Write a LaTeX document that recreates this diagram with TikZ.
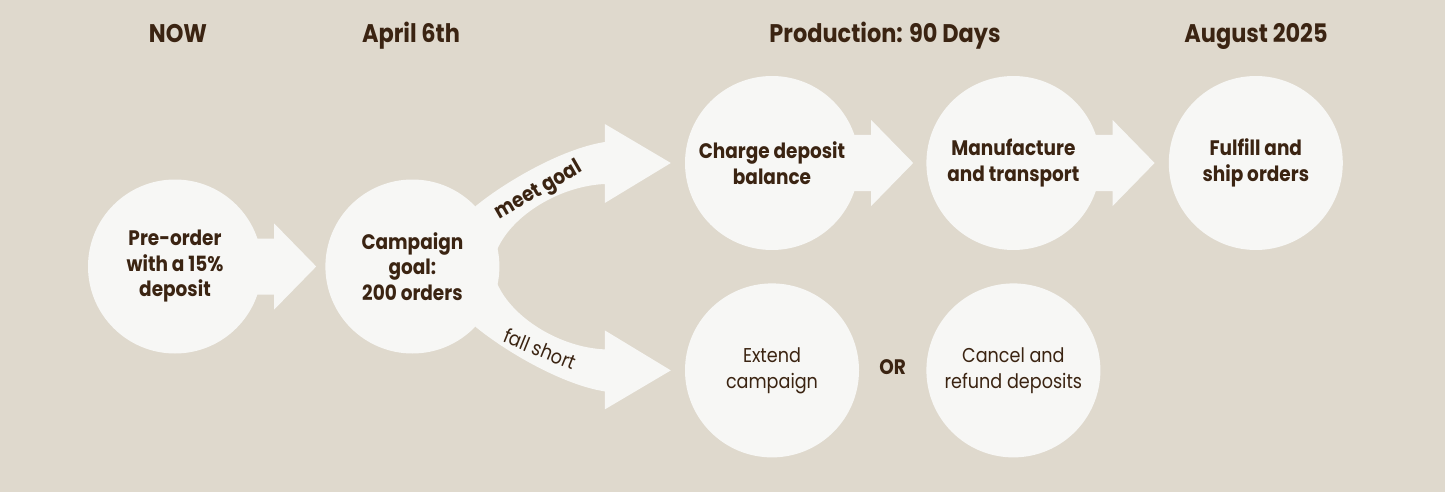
\documentclass[tikz,border=0pt]{standalone}
\usepackage{fontspec}
\setmainfont{Poppins}[FakeStretch=0.88]
\usetikzlibrary{calc, positioning}

\definecolor{sand}{HTML}{DFD9CD}
\definecolor{chalk}{HTML}{F7F7F5}
\definecolor{umber}{HTML}{3B2412}

\newcommand{\headfont}{\fontsize{25.5}{29}\selectfont\bfseries}
\newcommand{\stagefont}{\fontsize{21}{25.5}\selectfont\bfseries}
\newcommand{\altfont}{\fontsize{20}{26}\selectfont}

\pgfdeclarelayer{bg}
\pgfsetlayers{bg,main}

\begin{document}
\begin{tikzpicture}[x=1pt, y=-1pt]
            \tikzstyle{stage} = [circle, fill=chalk, minimum size=174pt, inner sep=0pt,
                                 align=center, text=umber, font=\stagefont]
            \tikzstyle{alt}   = [stage, font=\altfont]
            \tikzstyle{when}  = [anchor=base, text=umber, font=\headfont]
            \tikzstyle{tag}   = [text=umber, inner sep=0pt]
            \tikzstyle{arw}   = [fill=chalk]

            \begin{pgfonlayer}{bg}
                \fill[sand] (0,0) rectangle (1445,492);
            \end{pgfonlayer}
            \useasboundingbox (0,0) rectangle (1445,492);

            % headings
            \node (now)  [when] at (178,43)  {NOW};
            \node (apr)  [when] at (411,43)  {April 6th};
            \node (prod) [when] at (885,43)  {Production: 90 Days};
            \node (aug)  [when] at (1256,43) {August 2025};

            % stages
            \node (pre)    [stage] at (175,266.5)      {Pre-order\\with a 15\%\\deposit};
            \node (camp)   [stage, right=63pt of pre]  {Campaign\\goal:\\200 orders};
            \node (charge) [stage] at (772,163)        {Charge deposit\\balance};
            \node (make)   [stage, right=67pt of charge] {Manufacture\\and transport};
            \node (ship)   [stage, right=68pt of make]   {Fulfill and\\ship orders};
            \node (extend) [alt, below=33pt of charge]   {Extend\\campaign};
            \node (cancel) [alt, below=33pt of make]     {Cancel and\\refund deposits};
            \node (or)     [tag, font=\stagefont] at ($(extend)!0.5!(cancel)+(0,-3)$) {OR};

            \begin{pgfonlayer}{bg}
                % straight arrows
                \foreach \a in {pre, charge, make}
                    \fill[arw] ($(\a.east)+(-20,-28)$) -- ++(32,0) -- ++(0,-15) -- ++(42,43)
                               -- ++(-42,43) -- ++(0,-15) -- ++(-32,0) -- cycle;
                % curved arrows
                \foreach \t/\s in {charge/1, extend/-1} {
                    \coordinate (tip) at ($(\t.west)+(-14,0)$);
                    \fill[arw] ($(camp)+(85,-17.5*\s)$)
                        .. controls ($(camp)+(100,-51.5*\s)$) and ($(tip)+(-111,23*\s)$) .. ($(tip)+(-66,21*\s)$)
                        -- ($(tip)+(-66,40*\s)$) -- (tip) -- ($(tip)+(-66,-39*\s)$) -- ($(tip)+(-66,-21*\s)$)
                        .. controls ($(tip)+(-111,-14*\s)$) and ($(camp)+(88,-81.5*\s)$) .. ($(camp)+(61,-58.5*\s)$)
                        -- (camp) -- cycle;
                }
            \end{pgfonlayer}

            \node (meet)  [tag, font=\stagefont, rotate=30] at (539,191) {meet goal};
            \node (short) [tag, font=\altfont, rotate=-22]  at (540,349) {fall short};
        \end{tikzpicture}
\end{document}
